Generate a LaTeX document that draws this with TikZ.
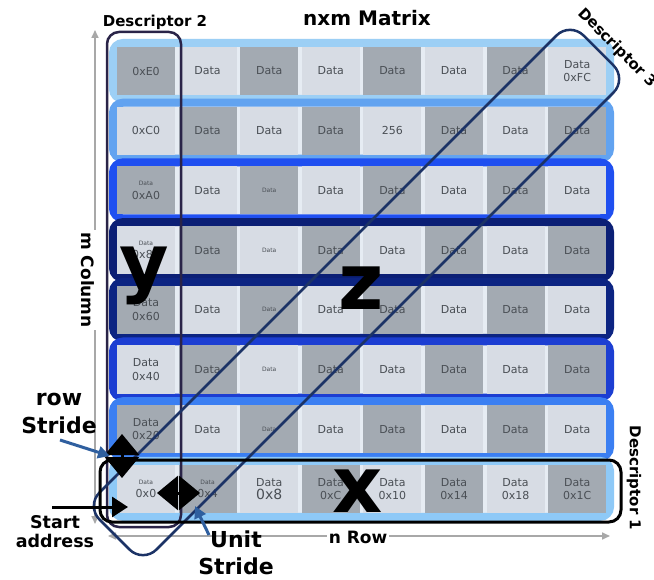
\documentclass[tikz,border=0pt]{standalone}
\usepackage{fontspec}
\setmainfont{DejaVu Sans}
\usetikzlibrary{arrows.meta}
\definecolor{celldark}{HTML}{A3AAB2}
\definecolor{celllight}{HTML}{D7DCE4}
\definecolor{gapcol}{HTML}{E6ECF3}
\definecolor{celltext}{HTML}{4A4F55}
\definecolor{bandA}{HTML}{9CCFF5}
\definecolor{bandB}{HTML}{62A3F0}
\definecolor{bandC}{HTML}{1F4FF0}
\definecolor{bandD}{HTML}{0B1F75}
\definecolor{bandE}{HTML}{0C2482}
\definecolor{bandF}{HTML}{1C3ED2}
\definecolor{bandG}{HTML}{3B7FF2}
\definecolor{bandH}{HTML}{8EC9F7}
\definecolor{descnavy}{HTML}{2A2448}
\definecolor{descblue}{HTML}{1C3366}
\definecolor{strideblue}{HTML}{2F5F9F}
\definecolor{axisgray}{HTML}{A8A8A8}
\newcommand\tinydata{{\fontsize{6}{7}\selectfont Data}}
\newcommand\mrow[2]{%
  \foreach \t [count=\ci from 0] in {#2} {%
    \pgfmathtruncatemacro\pty{mod(#1+\ci,2)}%
    \ifnum\pty=0 \def\cellcol{celldark}\else\def\cellcol{celllight}\fi
    \node[cell, fill=\cellcol] (c#1-\ci) at ({146+61.6*\ci},{71+59.7*#1}) {\t};
  }}
\begin{document}
\begin{tikzpicture}[x=1pt,y=-1pt,
  band/.style={line width=8pt, rounded corners=10pt, fill=gapcol},
  cell/.style={minimum width=58pt, minimum height=48pt, inner sep=0pt, text=celltext,
    font=\fontsize{11}{13.5}\selectfont, align=center},
  desclbl/.style={font=\bfseries\fontsize{15}{18}\selectfont, inner sep=0pt},
  axislbl/.style={font=\bfseries\fontsize{17}{20}\selectfont, inner sep=2pt, fill=white},
  biglbl/.style={font=\bfseries\fontsize{22}{28}\selectfont, inner sep=0pt, align=center},
  bigletter/.style={font=\bfseries\fontsize{78}{80}\selectfont, inner sep=0pt},
  axisline/.style={draw=axisgray, line width=1.6pt, {Triangle[width=7pt,length=8pt]}-{Triangle[width=7pt,length=8pt]}},
  dblarrow/.style={line width=3pt, {Triangle[width=34pt,length=21pt]}-{Triangle[width=34pt,length=21pt]}},
  pointer/.style={line width=3pt, strideblue, -{Triangle[width=12pt,length=12pt]}}
]
\useasboundingbox (0,0) rectangle (654,580);
\clip (0,0) rectangle (654,580);
\fill[white] (0,0) rectangle (654,580);

% axes
\coordinate (vbot) at (95,524);
\coordinate (vtop) at (95,30);
\coordinate (hleft) at (108,536);
\coordinate (hright) at (610,536);
\draw[axisline] (vbot) -- (vtop);
\draw[axisline] (hleft) -- (hright);
\node[axislbl, rotate=-90] (mcol) at (88,280) {m Column};
\node[axislbl] (nrow) at (358,537) {n Row};

% row bands
\foreach \r/\bc in {0/bandA,1/bandB,2/bandC,3/bandD,4/bandE,5/bandF,6/bandG,7/bandH}
  \draw[band, draw=\bc] (113,{71+59.7*\r-28}) rectangle (610,{71+59.7*\r+28});

% cells
\mrow{0}{0xE0,Data,Data,Data,Data,Data,Data,{Data\\0xFC}}
\mrow{1}{0xC0,Data,Data,Data,256,Data,Data,Data}
\mrow{2}{{\tinydata\\0xA0},Data,\tinydata,Data,Data,Data,Data,Data}
\mrow{3}{{\tinydata\\0x80},Data,\tinydata,Data,Data,Data,Data,Data}
\mrow{4}{{Data\\0x60},Data,\tinydata,Data,Data,Data,Data,Data}
\mrow{5}{{Data\\0x40},Data,\tinydata,Data,Data,Data,Data,Data}
\mrow{6}{{Data\\0x20},Data,\tinydata,Data,Data,Data,Data,Data}
\mrow{7}{{\tinydata\\0x0},{\tinydata\\0x4},{Data\\{\fontsize{14}{15}\selectfont 0x8}},{Data\\0xC},{Data\\0x10},{Data\\0x14},{Data\\0x18},{Data\\0x1C}}

% descriptors
\node[draw=descnavy, line width=2.5pt, rounded corners=12pt, minimum width=74pt,
  minimum height=495pt, inner sep=0pt] (d2box) at (144,279.5) {};
\node[draw=descblue, line width=2.5pt, rounded corners=19pt, minimum width=684.5pt,
  minimum height=80.6pt, rotate=45, inner sep=0pt] (d3box) at (356.5,292.5) {};
\node[draw=black, line width=3pt, rounded corners=12pt, minimum width=521pt,
  minimum height=62pt, inner sep=0pt] (d1box) at (360.5,491) {};

% labels
\node[font=\bfseries\fontsize{20}{24}\selectfont, inner sep=0pt] (title) at (367,18) {nxm Matrix};
\node[desclbl] (d2lbl) at (155,22) {Descriptor 2};
\node[desclbl, rotate=-45] (d3lbl) at (617,48) {Descriptor 3};
\node[desclbl, rotate=-90] (d1lbl) at (634,478) {Descriptor 1};

% big letters
\node[bigletter, font=\bfseries\fontsize{76}{80}\selectfont] (ly) at (144,276) {y};
\node[bigletter] (lz) at (361,288) {z};
\node[bigletter] (lx) at (358,491) {x};

% stride arrows
\coordinate (rsa) at (122,434);
\coordinate (rsb) at (122,478);
\draw[dblarrow] (rsa) -- (rsb);
\coordinate (usa) at (157,493);
\coordinate (usb) at (200,493);
\draw[dblarrow] (usa) -- (usb);
\coordinate (sa0) at (52,507);
\coordinate (sa1) at (128,507);
\draw[line width=3pt, -{Triangle[width=20pt,length=16pt]}] (sa0) -- (sa1);

\node[biglbl] (rowstride) at (59,413) {row\\Stride};
\node[biglbl, font=\bfseries\fontsize{22}{27}\selectfont] (unitstride) at (236,553) {Unit\\Stride};
\node[biglbl, font=\bfseries\fontsize{17.5}{19}\selectfont] (startaddr) at (55,532) {Start\\address};

\coordinate (rsq) at (60,440);
\coordinate (rsp) at (110,456);
\draw[pointer] (rsq) -- (rsp);
\coordinate (usq) at (209,535);
\coordinate (usp) at (195,506);
\draw[pointer] (usq) -- (usp);
\end{tikzpicture}
\end{document}
